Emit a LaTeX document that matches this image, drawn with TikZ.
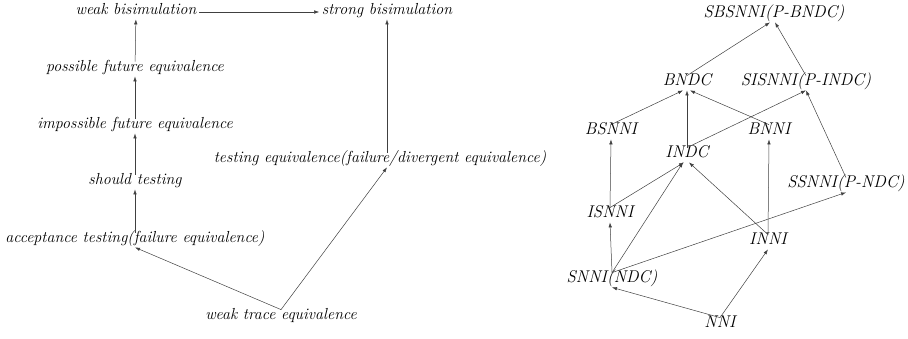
\documentclass[tikz,border=0pt]{standalone}
\usetikzlibrary{arrows.meta}
\begin{document}
\begin{tikzpicture}[x=1pt,y=-1pt,
  lbl/.style={inner sep=2.5pt,text height=0.72em,text depth=0.22em,font=\fontsize{16}{19}\selectfont\itshape},
  rlbl/.style={lbl,font=\fontsize{17}{20}\selectfont\itshape},
  arr/.style={draw=black!75,line width=0.5pt,-{Latex[length=5pt,width=3.5pt]}}]
\useasboundingbox (0,0) rectangle (908,338);
% left part
\node[lbl] (weak) at (136,12) {weak bisimulation};
\node[lbl] (strong) at (387,12) {strong bisimulation};
\node[lbl] (poss) at (135,69) {possible future equivalence};
\node[lbl] (imp) at (135,126) {impossible future equivalence};
\node[lbl] (should) at (135,182) {should testing};
\node[lbl] (test) at (380,160) {testing equivalence(failure/divergent equivalence)};
\node[lbl] (acc) at (135,240) {acceptance testing(failure equivalence)};
\node[lbl] (wte) at (281,317) {weak trace equivalence};
\draw[arr] (weak) -- (strong);
\draw[arr] (poss) -- (weak);
\draw[arr] (imp) -- (poss);
\draw[arr] (should) -- (imp);
\draw[arr] (acc) -- (should);
\draw[arr] (strong.south |- test.north) -- (strong.south);
\draw[arr] (wte.north) -- (acc.south);
\draw[arr] (wte.north) -- (strong.south |- test.south);
% right part
\node[rlbl] (sbsnni) at (774,15) {SBSNNI(P-BNDC)};
\node[rlbl] (bndc) at (687,83) {BNDC};
\node[rlbl] (sisnni) at (806,83) {SISNNI(P-INDC)};
\node[rlbl] (bsnni) at (611,132) {BSNNI};
\node[rlbl] (bnni) at (769,132) {BNNI};
\node[rlbl] (indc) at (687,155) {INDC};
\node[rlbl] (ssnni) at (846,185) {SSNNI(P-NDC)};
\node[rlbl] (isnni) at (610,215) {ISNNI};
\node[rlbl] (inni) at (768,242) {INNI};
\node[rlbl] (snni) at (612,280) {SNNI(NDC)};
\node[rlbl] (nni) at (720,325) {NNI};
\draw[arr] (bndc.north) -- ([xshift=-4pt]sbsnni.south);
\draw[arr] (sisnni.north) -- ([xshift=1pt]sbsnni.south);
\draw[arr] (bsnni.north) -- ([xshift=-4pt]bndc.south);
\draw[arr] (indc.north) -- (bndc.south);
\draw[arr] (bnni.north) -- ([xshift=3pt]bndc.south);
\draw[arr] (indc.north) -- (sisnni.south);
\draw[arr] (ssnni.north) -- (sisnni.south);
\draw[arr] (isnni.north) -- (bsnni.south);
\draw[arr] (isnni.north) -- ([xshift=-3pt]indc.south);
\draw[arr] (inni.north) -- (bnni.south);
\draw[arr] (inni.north) -- ([xshift=2pt]indc.south);
\draw[arr] (snni.north) -- (isnni.south);
\draw[arr] (snni.north) -- ([xshift=-4pt]indc.south);
\draw[arr] (snni.north) -- (ssnni.south);
\draw[arr] (nni.north) -- (snni.south);
\draw[arr] (nni.north) -- (inni.south);
\end{tikzpicture}
\end{document}
